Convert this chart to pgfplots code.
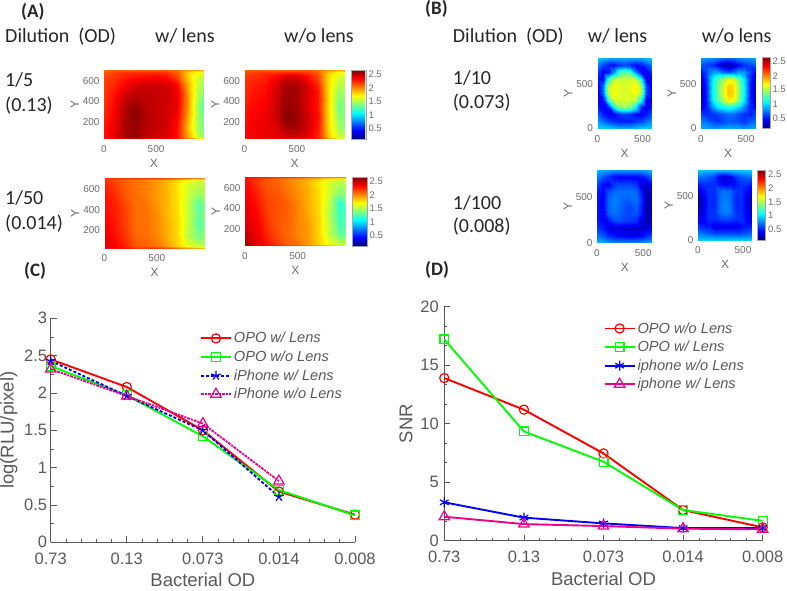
\documentclass[border=0pt]{standalone}
\usepackage{fontspec}
\setmainfont{Liberation Sans}
\newfontfamily\calib{Carlito}
\usepackage{pgfplots}
\pgfplotsset{compat=1.18}
\definecolor{tickgray}{gray}{0.42}
\definecolor{linegray}{gray}{0.35}
\definecolor{limegreen}{rgb}{0,1,0}

\pgfplotsset{
  colormap={myjet}{rgb255(0cm)=(0,0,128); rgb255(1cm)=(0,0,255); rgb255(3cm)=(0,255,255); rgb255(5cm)=(255,255,0); rgb255(7cm)=(255,0,0); rgb255(8cm)=(128,0,0)},
  heat/.style={
    scale only axis, view={0}{90}, colormap name=myjet,
    point meta min=0.12, point meta max=2.65,
    axis line style={draw=none}, major tick length=0pt, axis on top,
    /pgf/number format/assume math mode=true,
    tick label style={font=\fontsize{10}{10}\selectfont, text=tickgray},
    label style={font=\fontsize{12}{12}\selectfont, text=tickgray},
    xlabel={X}, ylabel={Y},
    xlabel style={yshift=0pt}, ylabel style={yshift=-3pt},
    xticklabel style={yshift=-3pt}, yticklabel style={xshift=-1pt},
  },
  heatA/.style={heat, xmin=0, xmax=960, ymin=30, ymax=710, xtick={0,500}, ytick={200,400,600}},
  heatB/.style={heat, xmin=0, xmax=600, ymin=0, ymax=800, xtick={0,500}, ytick={0,500}},
  bar/.style 2 args={
    colorbar,
    colorbar style={
      at={(#1,1)}, anchor=north west, width=#2,
      ytick={0.5,1,1.5,2,2.5}, yticklabel pos=right,
      axis line style={draw=gray!70}, major tick length=0pt,
      /pgf/number format/assume math mode=true,
      yticklabel style={font=\fontsize{9.5}{10}\selectfont, text=tickgray, xshift=-1pt},
    },
  },
  lineplot/.style={
    scale only axis, clip=false,
    axis x line*=bottom, axis y line*=left,
    axis line style={-, draw=linegray, line width=1pt},
    every tick/.style={draw=linegray, line width=0.8pt},
    tick align=inside, major tick length=6pt, minor tick length=3pt,
    xmin=0, xmax=4, xtick={0,1,2,3,4}, xticklabels={0.73,0.13,0.073,0.014,0.008},
    minor x tick num=4,
    /pgf/number format/assume math mode=true,
    tick label style={font=\fontsize{16.5}{17}\selectfont, text=linegray},
    xticklabel style={yshift=-7pt},
    label style={font=\fontsize{18.5}{19}\selectfont, text=linegray},
    xlabel={Bacterial OD},
    xlabel style={yshift=-2pt},
    legend cell align=left,
    legend image code/.code={
      \draw[mark repeat=2,mark phase=2,#1] plot coordinates {(0pt,0pt)(15pt,0pt)(30pt,0pt)};
    },
  },
  ser/.style n args={3}{color=#1, line width=1.9pt, mark=#2, mark size=#3, mark options={solid, fill=none, line width=1.2pt}},
}

\begin{document}
\begin{tikzpicture}[x=1pt,y=1pt]
\path[use as bounding box] (0,0) rectangle (787,590);

% (A) heat maps
\begin{axis}[heatA, at={(104pt,451pt)}, anchor=south west, width=100pt, height=69pt]
\addplot3[surf, shader=interp, mesh/cols=11] coordinates {
(0,30,2.3)(100,30,2.35)(200,30,2.4)(300,30,2.4)(400,30,2.35)(500,30,2.3)(600,30,2.3)(700,30,2.25)(800,30,2.05)(900,30,1.85)(960,30,1.8)
(0,45,2.3)(100,45,2.4)(200,45,2.55)(300,45,2.6)(400,45,2.5)(500,45,2.45)(600,45,2.42)(700,45,2.3)(800,45,1.95)(900,45,1.55)(960,45,1.45)
(0,150,2.28)(100,150,2.38)(200,150,2.55)(300,150,2.6)(400,150,2.5)(500,150,2.48)(600,150,2.45)(700,150,2.3)(800,150,1.9)(900,150,1.45)(960,150,1.35)
(0,250,2.25)(100,250,2.35)(200,250,2.55)(300,250,2.62)(400,250,2.52)(500,250,2.48)(600,250,2.45)(700,250,2.35)(800,250,1.95)(900,250,1.45)(960,250,1.32)
(0,350,2.22)(100,350,2.33)(200,350,2.52)(300,350,2.6)(400,350,2.5)(500,350,2.48)(600,350,2.45)(700,350,2.38)(800,350,2.0)(900,350,1.45)(960,350,1.25)
(0,450,2.2)(100,450,2.3)(200,450,2.45)(300,450,2.52)(400,450,2.5)(500,450,2.48)(600,450,2.46)(700,450,2.38)(800,450,2.0)(900,450,1.5)(960,450,1.38)
(0,550,2.18)(100,550,2.25)(200,550,2.35)(300,550,2.45)(400,550,2.47)(500,550,2.47)(600,550,2.45)(700,550,2.35)(800,550,1.95)(900,550,1.55)(960,550,1.45)
(0,650,2.15)(100,650,2.2)(200,650,2.25)(300,650,2.28)(400,650,2.3)(500,650,2.32)(600,650,2.3)(700,650,2.15)(800,650,1.85)(900,650,1.6)(960,650,1.55)
(0,695,2.12)(100,695,2.18)(200,695,2.2)(300,695,2.22)(400,695,2.22)(500,695,2.22)(600,695,2.2)(700,695,2.1)(800,695,1.85)(900,695,1.7)(960,695,1.65)
(0,710,2.05)(100,710,2.1)(200,710,2.1)(300,710,2.1)(400,710,2.1)(500,710,2.1)(600,710,2.1)(700,710,2.05)(800,710,1.95)(900,710,1.9)(960,710,1.9)
};
\end{axis}

\begin{axis}[heatA, bar={1.06}{15pt}, at={(244.5pt,451pt)}, anchor=south west, width=100.5pt, height=69pt]
\addplot3[surf, shader=interp, mesh/cols=11] coordinates {
(0,30,2.3)(100,30,2.3)(200,30,2.3)(300,30,2.3)(400,30,2.3)(500,30,2.3)(600,30,2.25)(700,30,2.2)(800,30,2.0)(900,30,1.8)(960,30,1.75)
(0,45,2.35)(100,45,2.38)(200,45,2.38)(300,45,2.4)(400,45,2.45)(500,45,2.45)(600,45,2.4)(700,45,2.25)(800,45,1.85)(900,45,1.55)(960,45,1.55)
(0,150,2.33)(100,150,2.36)(200,150,2.38)(300,150,2.42)(400,150,2.55)(500,150,2.55)(600,150,2.45)(700,150,2.28)(800,150,1.8)(900,150,1.45)(960,150,1.45)
(0,250,2.3)(100,250,2.35)(200,250,2.38)(300,250,2.46)(400,250,2.65)(500,250,2.58)(600,250,2.45)(700,250,2.3)(800,250,1.8)(900,250,1.4)(960,250,1.42)
(0,350,2.28)(100,350,2.32)(200,350,2.35)(300,350,2.46)(400,350,2.6)(500,350,2.55)(600,350,2.42)(700,350,2.28)(800,350,1.8)(900,350,1.35)(960,350,1.45)
(0,450,2.25)(100,450,2.3)(200,450,2.32)(300,450,2.45)(400,450,2.58)(500,450,2.55)(600,450,2.42)(700,450,2.28)(800,450,1.8)(900,450,1.4)(960,450,1.5)
(0,550,2.22)(100,550,2.28)(200,550,2.3)(300,550,2.42)(400,550,2.58)(500,550,2.55)(600,550,2.45)(700,550,2.25)(800,550,1.8)(900,550,1.5)(960,550,1.55)
(0,650,2.2)(100,650,2.22)(200,650,2.25)(300,650,2.32)(400,650,2.42)(500,650,2.42)(600,650,2.3)(700,650,2.15)(800,650,1.8)(900,650,1.6)(960,650,1.6)
(0,695,2.15)(100,695,2.18)(200,695,2.2)(300,695,2.2)(400,695,2.22)(500,695,2.22)(600,695,2.2)(700,695,2.1)(800,695,1.85)(900,695,1.7)(960,695,1.7)
(0,710,2.1)(100,710,2.1)(200,710,2.1)(300,710,2.1)(400,710,2.1)(500,710,2.1)(600,710,2.1)(700,710,2.05)(800,710,1.95)(900,710,1.9)(960,710,1.9)
};
\end{axis}

\begin{axis}[heatA, at={(104.5pt,342pt)}, anchor=south west, width=100.5pt, height=70pt]
\addplot3[surf, shader=interp, mesh/cols=11] coordinates {
(0,30,2.35)(100,30,2.3)(200,30,2.28)(300,30,2.2)(400,30,2.2)(500,30,2.2)(600,30,2.15)(700,30,2.05)(800,30,1.95)(900,30,1.9)(960,30,1.85)
(0,45,2.42)(100,45,2.35)(200,45,2.25)(300,45,2.12)(400,45,2.1)(500,45,2.05)(600,45,1.95)(700,45,1.8)(800,45,1.65)(900,45,1.55)(960,45,1.55)
(0,150,2.38)(100,150,2.3)(200,150,2.2)(300,150,2.08)(400,150,2.06)(500,150,2.0)(600,150,1.9)(700,150,1.78)(800,150,1.52)(900,150,1.35)(960,150,1.45)
(0,250,2.35)(100,250,2.28)(200,250,2.18)(300,250,2.06)(400,250,2.06)(500,250,1.98)(600,250,1.9)(700,250,1.78)(800,250,1.55)(900,250,1.28)(960,250,1.4)
(0,350,2.33)(100,350,2.26)(200,350,2.18)(300,350,2.06)(400,350,2.06)(500,350,1.98)(600,350,1.88)(700,350,1.78)(800,350,1.55)(900,350,1.3)(960,350,1.45)
(0,450,2.3)(100,450,2.26)(200,450,2.16)(300,450,2.06)(400,450,2.05)(500,450,1.96)(600,450,1.88)(700,450,1.76)(800,450,1.55)(900,450,1.28)(960,450,1.4)
(0,550,2.28)(100,550,2.22)(200,550,2.12)(300,550,2.06)(400,550,2.02)(500,550,1.95)(600,550,1.88)(700,550,1.76)(800,550,1.58)(900,550,1.45)(960,550,1.5)
(0,650,2.25)(100,650,2.18)(200,650,2.1)(300,650,2.05)(400,650,2.02)(500,650,1.95)(600,650,1.88)(700,650,1.75)(800,650,1.6)(900,650,1.55)(960,650,1.55)
(0,695,2.2)(100,695,2.15)(200,695,2.1)(300,695,2.05)(400,695,2.0)(500,695,1.95)(600,695,1.9)(700,695,1.8)(800,695,1.65)(900,695,1.6)(960,695,1.65)
(0,710,2.2)(100,710,2.2)(200,710,2.2)(300,710,2.2)(400,710,2.2)(500,710,2.2)(600,710,2.15)(700,710,2.1)(800,710,2.05)(900,710,2.0)(960,710,2.0)
};
\end{axis}

\begin{axis}[heatA, bar={1.06}{15pt}, at={(245pt,344pt)}, anchor=south west, width=101pt, height=69pt]
\addplot3[surf, shader=interp, mesh/cols=11] coordinates {
(0,30,2.5)(100,30,2.45)(200,30,2.35)(300,30,2.3)(400,30,2.25)(500,30,2.2)(600,30,2.1)(700,30,2.05)(800,30,2.0)(900,30,1.95)(960,30,1.9)
(0,45,2.55)(100,45,2.4)(200,45,2.3)(300,45,2.2)(400,45,2.1)(500,45,2.05)(600,45,1.95)(700,45,1.8)(800,45,1.65)(900,45,1.55)(960,45,1.55)
(0,150,2.48)(100,150,2.38)(200,150,2.25)(300,150,2.15)(400,150,2.08)(500,150,2.0)(600,150,1.95)(700,150,1.8)(800,150,1.55)(900,150,1.3)(960,150,1.35)
(0,250,2.42)(100,250,2.36)(200,250,2.22)(300,250,2.12)(400,250,2.1)(500,250,2.0)(600,250,1.95)(700,250,1.8)(800,250,1.55)(900,250,1.22)(960,250,1.32)
(0,350,2.4)(100,350,2.34)(200,350,2.2)(300,350,2.12)(400,350,2.1)(500,350,2.0)(600,350,1.92)(700,350,1.8)(800,350,1.5)(900,350,1.2)(960,350,1.3)
(0,450,2.38)(100,450,2.3)(200,450,2.18)(300,450,2.14)(400,450,2.1)(500,450,2.0)(600,450,1.9)(700,450,1.78)(800,450,1.55)(900,450,1.15)(960,450,1.35)
(0,550,2.35)(100,550,2.27)(200,550,2.15)(300,550,2.12)(400,550,2.05)(500,550,1.98)(600,550,1.9)(700,550,1.78)(800,550,1.6)(900,550,1.4)(960,550,1.45)
(0,650,2.32)(100,650,2.22)(200,650,2.12)(300,650,2.1)(400,650,2.02)(500,650,1.95)(600,650,1.88)(700,650,1.75)(800,650,1.6)(900,650,1.5)(960,650,1.55)
(0,695,2.3)(100,695,2.2)(200,695,2.12)(300,695,2.08)(400,695,2.0)(500,695,1.95)(600,695,1.9)(700,695,1.8)(800,695,1.7)(900,695,1.6)(960,695,1.6)
(0,710,2.3)(100,710,2.3)(200,710,2.25)(300,710,2.2)(400,710,2.2)(500,710,2.15)(600,710,2.1)(700,710,2.05)(800,710,2.0)(900,710,2.0)(960,710,2.0)
};
\end{axis}

% (B) heat maps
\begin{axis}[heatB, at={(597.5pt,461.5pt)}, anchor=south west, width=54pt, height=71pt]
\addplot3[surf, shader=interp, mesh/cols=11] coordinates {
(0,0,0.95)(60,0,0.95)(120,0,0.95)(180,0,0.9)(240,0,0.85)(300,0,0.85)(360,0,0.85)(420,0,0.9)(480,0,0.95)(540,0,0.95)(600,0,1.0)
(0,80,0.8)(60,80,0.7)(120,80,0.6)(180,80,0.55)(240,80,0.5)(300,80,0.5)(360,80,0.5)(420,80,0.55)(480,80,0.6)(540,80,0.7)(600,80,0.8)
(0,160,0.65)(60,160,0.5)(120,160,0.42)(180,160,0.45)(240,160,0.55)(300,160,0.6)(360,160,0.55)(420,160,0.45)(480,160,0.4)(540,160,0.5)(600,160,0.65)
(0,240,0.5)(60,240,0.4)(120,240,0.5)(180,240,1.1)(240,240,1.4)(300,240,1.45)(360,240,1.4)(420,240,1.1)(480,240,0.5)(540,240,0.35)(600,240,0.5)
(0,320,0.45)(60,320,0.45)(120,320,1.15)(180,320,1.6)(240,320,1.6)(300,320,1.6)(360,320,1.6)(420,320,1.55)(480,320,1.1)(540,320,0.4)(600,320,0.4)
(0,400,0.42)(60,400,0.7)(120,400,1.55)(180,400,1.68)(240,400,1.62)(300,400,1.6)(360,400,1.62)(420,400,1.72)(480,400,1.5)(540,400,0.6)(600,400,0.38)
(0,480,0.42)(60,480,0.7)(120,480,1.55)(180,480,1.68)(240,480,1.62)(300,480,1.6)(360,480,1.62)(420,480,1.72)(480,480,1.5)(540,480,0.6)(600,480,0.38)
(0,560,0.45)(60,560,0.45)(120,560,1.15)(180,560,1.58)(240,560,1.58)(300,560,1.58)(360,560,1.58)(420,560,1.55)(480,560,1.1)(540,560,0.4)(600,560,0.42)
(0,640,0.55)(60,640,0.42)(120,640,0.45)(180,640,0.8)(240,640,1.2)(300,640,1.3)(360,640,1.2)(420,640,0.8)(480,640,0.45)(540,640,0.4)(600,640,0.55)
(0,720,0.75)(60,720,0.6)(120,720,0.5)(180,720,0.45)(240,720,0.55)(300,720,0.6)(360,720,0.55)(420,720,0.45)(480,720,0.5)(540,720,0.6)(600,720,0.75)
(0,800,0.95)(60,800,0.9)(120,800,0.85)(180,800,0.85)(240,800,0.85)(300,800,0.85)(360,800,0.85)(420,800,0.85)(480,800,0.85)(540,800,0.9)(600,800,0.95)
};
\end{axis}

\begin{axis}[heatB, bar={1.13}{8pt}, at={(701pt,461.5pt)}, anchor=south west, width=54pt, height=71pt]
\addplot3[surf, shader=interp, mesh/cols=11] coordinates {
(0,0,0.85)(60,0,0.85)(120,0,0.8)(180,0,0.8)(240,0,0.85)(300,0,0.85)(360,0,0.85)(420,0,0.85)(480,0,0.8)(540,0,0.85)(600,0,0.85)
(0,80,0.75)(60,80,0.7)(120,80,0.6)(180,80,0.55)(240,80,0.6)(300,80,0.65)(360,80,0.65)(420,80,0.6)(480,80,0.55)(540,80,0.65)(600,80,0.7)
(0,160,0.6)(60,160,0.55)(120,160,0.55)(180,160,0.6)(240,160,0.65)(300,160,0.7)(360,160,0.7)(420,160,0.6)(480,160,0.55)(540,160,0.5)(600,160,0.6)
(0,240,0.4)(60,240,0.5)(120,240,0.8)(180,240,1.0)(240,240,1.1)(300,240,1.15)(360,240,1.1)(420,240,0.95)(480,240,0.75)(540,240,0.5)(600,240,0.45)
(0,320,0.3)(60,320,0.5)(120,320,1.0)(180,320,1.25)(240,320,1.5)(300,320,1.75)(360,320,1.7)(420,320,1.35)(480,320,1.0)(540,320,0.5)(600,320,0.35)
(0,400,0.28)(60,400,0.5)(120,400,1.05)(180,400,1.3)(240,400,1.6)(300,400,1.85)(360,400,1.8)(420,400,1.4)(480,400,1.05)(540,400,0.5)(600,400,0.3)
(0,480,0.3)(60,480,0.5)(120,480,1.05)(180,480,1.3)(240,480,1.6)(300,480,1.82)(360,480,1.8)(420,480,1.4)(480,480,1.05)(540,480,0.5)(600,480,0.3)
(0,560,0.35)(60,560,0.55)(120,560,1.0)(180,560,1.25)(240,560,1.45)(300,560,1.65)(360,560,1.65)(420,560,1.3)(480,560,1.0)(540,560,0.55)(600,560,0.35)
(0,640,0.45)(60,640,0.6)(120,640,0.8)(180,640,0.85)(240,640,0.7)(300,640,0.65)(360,640,0.7)(420,640,0.85)(480,640,0.8)(540,640,0.6)(600,640,0.45)
(0,720,0.65)(60,720,0.6)(120,720,0.55)(180,720,0.45)(240,720,0.3)(300,720,0.22)(360,720,0.3)(420,720,0.45)(480,720,0.55)(540,720,0.6)(600,720,0.65)
(0,800,0.85)(60,800,0.8)(120,800,0.8)(180,800,0.75)(240,800,0.7)(300,800,0.7)(360,800,0.7)(420,800,0.75)(480,800,0.8)(540,800,0.8)(600,800,0.85)
};
\end{axis}

\begin{axis}[heatB, at={(597pt,347pt)}, anchor=south west, width=55.5pt, height=73pt]
\addplot3[surf, shader=interp, mesh/cols=11] coordinates {
(0,0,0.9)(60,0,0.9)(120,0,0.85)(180,0,0.8)(240,0,0.8)(300,0,0.8)(360,0,0.8)(420,0,0.8)(480,0,0.85)(540,0,0.85)(600,0,0.9)
(0,80,0.72)(60,80,0.65)(120,80,0.55)(180,80,0.48)(240,80,0.45)(300,80,0.42)(360,80,0.4)(420,80,0.4)(480,80,0.45)(540,80,0.55)(600,80,0.65)
(0,160,0.58)(60,160,0.5)(120,160,0.4)(180,160,0.35)(240,160,0.35)(300,160,0.33)(360,160,0.32)(420,160,0.3)(480,160,0.3)(540,160,0.35)(600,160,0.45)
(0,240,0.5)(60,240,0.42)(120,240,0.45)(180,240,0.6)(240,240,0.62)(300,240,0.58)(360,240,0.58)(420,240,0.55)(480,240,0.35)(540,240,0.2)(600,240,0.38)
(0,320,0.48)(60,320,0.42)(120,320,0.65)(180,320,0.72)(240,320,0.68)(300,320,0.62)(360,320,0.62)(420,320,0.65)(480,320,0.5)(540,320,0.18)(600,320,0.32)
(0,400,0.48)(60,400,0.42)(120,400,0.68)(180,400,0.75)(240,400,0.7)(300,400,0.62)(360,400,0.6)(420,400,0.68)(480,400,0.52)(540,400,0.18)(600,400,0.3)
(0,480,0.48)(60,480,0.42)(120,480,0.68)(180,480,0.75)(240,480,0.72)(300,480,0.68)(360,480,0.68)(420,480,0.72)(480,480,0.55)(540,480,0.2)(600,480,0.32)
(0,560,0.5)(60,560,0.42)(120,560,0.62)(180,560,0.72)(240,560,0.72)(300,560,0.72)(360,560,0.72)(420,560,0.7)(480,560,0.5)(540,560,0.22)(600,560,0.38)
(0,640,0.6)(60,640,0.45)(120,640,0.42)(180,640,0.58)(240,640,0.62)(300,640,0.62)(360,640,0.62)(420,640,0.58)(480,640,0.38)(540,640,0.3)(600,640,0.5)
(0,720,0.75)(60,720,0.65)(120,720,0.55)(180,720,0.45)(240,720,0.42)(300,720,0.42)(360,720,0.42)(420,720,0.42)(480,720,0.45)(540,720,0.55)(600,720,0.7)
(0,800,0.9)(60,800,0.85)(120,800,0.85)(180,800,0.82)(240,800,0.82)(300,800,0.82)(360,800,0.82)(420,800,0.82)(480,800,0.82)(540,800,0.85)(600,800,0.9)
};
\end{axis}

\begin{axis}[heatB, bar={1.105}{8pt}, at={(698pt,350pt)}, anchor=south west, width=54pt, height=70pt]
\addplot3[surf, shader=interp, mesh/cols=11] coordinates {
(0,0,0.95)(60,0,0.95)(120,0,0.95)(180,0,0.95)(240,0,0.95)(300,0,0.95)(360,0,0.95)(420,0,0.95)(480,0,0.95)(540,0,0.95)(600,0,0.95)
(0,80,0.75)(60,80,0.7)(120,80,0.65)(180,80,0.6)(240,80,0.6)(300,80,0.6)(360,80,0.6)(420,80,0.6)(480,80,0.6)(540,80,0.65)(600,80,0.7)
(0,160,0.55)(60,160,0.5)(120,160,0.48)(180,160,0.38)(240,160,0.38)(300,160,0.38)(360,160,0.38)(420,160,0.38)(480,160,0.45)(540,160,0.48)(600,160,0.5)
(0,240,0.4)(60,240,0.42)(120,240,0.55)(180,240,0.55)(240,240,0.6)(300,240,0.62)(360,240,0.6)(420,240,0.55)(480,240,0.55)(540,240,0.42)(600,240,0.35)
(0,320,0.25)(60,320,0.4)(120,320,0.55)(180,320,0.55)(240,320,0.72)(300,320,0.75)(360,320,0.72)(420,320,0.55)(480,320,0.55)(540,320,0.42)(600,320,0.25)
(0,400,0.18)(60,400,0.38)(120,400,0.55)(180,400,0.52)(240,400,0.72)(300,400,0.78)(360,400,0.72)(420,400,0.52)(480,400,0.55)(540,400,0.4)(600,400,0.2)
(0,480,0.2)(60,480,0.38)(120,480,0.55)(180,480,0.52)(240,480,0.7)(300,480,0.75)(360,480,0.7)(420,480,0.52)(480,480,0.55)(540,480,0.4)(600,480,0.22)
(0,560,0.3)(60,560,0.45)(120,560,0.55)(180,560,0.55)(240,560,0.7)(300,560,0.72)(360,560,0.7)(420,560,0.55)(480,560,0.55)(540,560,0.45)(600,560,0.32)
(0,640,0.5)(60,640,0.55)(120,640,0.55)(180,640,0.55)(240,640,0.45)(300,640,0.4)(360,640,0.45)(420,640,0.5)(480,640,0.55)(540,640,0.55)(600,640,0.5)
(0,720,0.72)(60,720,0.68)(120,720,0.65)(180,720,0.58)(240,720,0.38)(300,720,0.32)(360,720,0.38)(420,720,0.55)(480,720,0.65)(540,720,0.68)(600,720,0.72)
(0,800,0.95)(60,800,0.92)(120,800,0.92)(180,800,0.92)(240,800,0.92)(300,800,0.92)(360,800,0.92)(420,800,0.92)(480,800,0.92)(540,800,0.95)(600,800,0.95)
};
\end{axis}

% (C)
\begin{axis}[lineplot, at={(50.7pt,47.7pt)}, anchor=south west, width=304.3pt, height=224pt,
  ymin=0, ymax=3, ytick={0,0.5,1,1.5,2,2.5,3}, minor y tick num=1,
  ylabel={log(RLU/pixel)},
  legend style={at={(0.49,0.947)}, anchor=north west, draw=none, fill=none, inner sep=0pt, row sep=2.5pt,
    font=\itshape\fontsize{14.6}{15}\selectfont, text=linegray},
]
\addplot[ser={red}{o}{4.6pt}] coordinates {(0,2.45)(1,2.08)(2,1.50)(3,0.68)(4,0.37)};
\addplot[ser={limegreen}{square}{4.4pt}] coordinates {(0,2.36)(1,1.97)(2,1.42)(3,0.70)(4,0.36)};
\addplot[ser={blue}{star}{5pt}, densely dashed] coordinates {(0,2.43)(1,1.96)(2,1.50)(3,0.61)};
\addplot[ser={magenta}{triangle}{6pt}, densely dashdotted] coordinates {(0,2.32)(1,1.96)(2,1.59)(3,0.82)};
\legend{OPO w/ Lens,OPO w/o Lens,iPhone w/ Lens,iPhone w/o Lens}
\end{axis}

% (D)
\begin{axis}[lineplot, at={(444.3pt,49.3pt)}, anchor=south west, width=318.4pt, height=234pt,
  ymin=0, ymax=20, ytick={0,5,10,15,20}, minor y tick num=2,
  yticklabel style={xshift=-2pt}, ylabel style={yshift=1pt},
  ylabel={SNR},
  legend style={at={(0.5,0.942)}, anchor=north west, draw=none, fill=none, inner sep=0pt, row sep=2.5pt,
    font=\itshape\fontsize{14.6}{15}\selectfont, text=linegray},
]
\addplot[ser={red}{o}{4.6pt}] coordinates {(0,13.9)(1,11.2)(2,7.46)(3,2.62)(4,1.14)};
\addplot[ser={limegreen}{square}{4.4pt}] coordinates {(0,17.2)(1,9.34)(2,6.75)(3,2.62)(4,1.7)};
\addplot[ser={blue}{asterisk}{5pt}] coordinates {(0,3.28)(1,1.97)(2,1.48)(3,1.08)(4,1.08)};
\addplot[ser={magenta}{triangle}{6pt}] coordinates {(0,2.05)(1,1.42)(2,1.25)(3,1.03)(4,0.97)};
\legend{OPO w/o Lens,OPO w/ Lens,iphone w/o Lens,iphone w/ Lens}
\end{axis}

% panel text
\begin{scope}[every node/.style={anchor=base west, inner sep=0pt, text=black!85, font=\calib\fontsize{20}{20}\selectfont}]
\node[font=\calib\bfseries\fontsize{19}{19}\selectfont] at (21,572.5) {(A)};
\node at (5,547.3) {Dilution\ \ (OD)};
\node at (155,547.3) {w/ lens};
\node at (284,547.3) {w/o lens};
\node at (5,503.3) {1/5};
\node at (5,478) {(0.13)};
\node at (5,385) {1/50};
\node at (5,360) {(0.014)};
\node[font=\calib\bfseries\fontsize{19}{19}\selectfont] at (24,314) {(C)};
\node[font=\calib\bfseries\fontsize{19}{19}\selectfont] at (425,575) {(B)};
\node at (452.7,547.3) {Dilution\ \ (OD)};
\node at (587.7,547.3) {w/ lens};
\node at (701.7,547.3) {w/o lens};
\node at (452.7,505) {1/10};
\node at (452.7,481) {(0.073)};
\node at (452.7,380) {1/100};
\node at (452.7,357) {(0.008)};
\node[font=\calib\bfseries\fontsize{19}{19}\selectfont] at (425,315) {(D)};
\end{scope}
\end{tikzpicture}
\end{document}
